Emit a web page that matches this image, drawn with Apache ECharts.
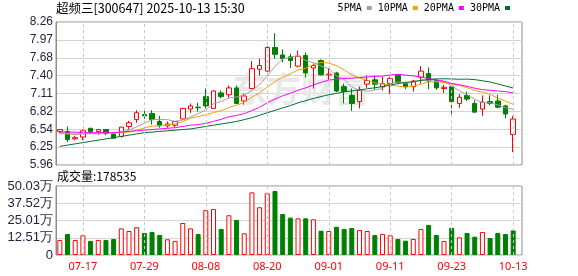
<!DOCTYPE html>
<html><head><meta charset="utf-8">
<script src="https://cdn.jsdelivr.net/npm/echarts@6/dist/echarts.min.js"></script>
<style>html,body{margin:0;padding:0;background:#fff}#c{width:578px;height:276px}</style>
</head><body><div id="c"></div>
<script>
const dates = ['07-14','07-15','07-16','07-17','07-18','07-21','07-22','07-23','07-24','07-25','07-28','07-29','07-30','07-31',
'08-01','08-04','08-05','08-06','08-07','08-08','08-11','08-12','08-13','08-14','08-15','08-18','08-19','08-20','08-21','08-22','08-25','08-26','08-27','08-28','08-29',
'09-01','09-02','09-03','09-04','09-05','09-08','09-09','09-10','09-11','09-12','09-15','09-16','09-17','09-18','09-19','09-22','09-23','09-24','09-25','09-26','09-29','09-30',
'10-09','10-10','10-13'];
const tickDates = ['07-17','07-29','08-08','08-20','09-01','09-11','09-23','10-13'];
const priceTicks = ['5.96','6.25','6.54','6.82','7.11','7.40','7.68','7.97','8.26'];
const volTicks = ['0','12.51万','25.01万','37.52万','50.03万'];
const priceMin = 5.96, priceMax = 8.26, volMax = 50.03;

const opens  = [6.50,6.50,6.38,6.41,6.55,6.50,6.53,6.46,6.42,6.58,6.69,6.77,6.79,6.66,6.59,6.60,6.70,6.86,6.89,7.06,6.87,7.12,7.09,7.20,6.99,7.19,7.50,7.47,7.85,7.73,7.70,7.55,7.72,7.52,7.64,7.41,7.44,7.22,7.08,6.98,7.26,7.33,7.22,7.27,7.40,7.27,7.22,7.37,7.43,7.32,7.19,7.22,6.95,7.08,6.95,6.86,6.98,6.99,6.91,6.45];
const closes = [6.53,6.37,6.40,6.51,6.50,6.53,6.47,6.39,6.57,6.64,6.80,6.75,6.69,6.59,6.62,6.66,6.87,6.91,6.88,6.91,7.15,7.06,7.20,6.95,7.07,7.51,7.56,7.85,7.74,7.67,7.64,7.71,7.44,7.56,7.41,7.42,7.15,7.14,6.95,7.16,7.32,7.26,7.27,7.35,7.29,7.22,7.31,7.47,7.31,7.20,7.21,6.98,7.05,7.02,6.81,6.97,6.95,6.89,6.78,6.70];
const lows   = [6.47,6.33,6.36,6.36,6.46,6.45,6.44,6.38,6.40,6.53,6.64,6.70,6.61,6.56,6.56,6.57,6.69,6.80,6.82,6.87,6.87,7.03,7.04,6.94,6.93,7.18,7.40,7.46,7.67,7.61,7.52,7.53,7.37,7.19,7.40,7.33,7.13,6.95,6.83,6.87,7.20,7.17,7.16,7.10,7.27,7.18,7.14,7.27,7.18,7.17,7.12,6.75,6.88,6.99,6.81,6.75,6.92,6.87,6.71,6.17];
const highs  = [6.54,6.58,6.43,6.53,6.56,6.53,6.53,6.47,6.57,6.67,6.84,6.87,6.84,6.75,6.66,6.66,6.88,6.95,6.96,7.19,7.16,7.16,7.24,7.24,7.11,7.63,7.67,7.87,8.08,7.82,7.75,7.80,7.77,7.59,7.66,7.52,7.46,7.27,7.19,7.22,7.40,7.40,7.38,7.38,7.42,7.30,7.33,7.55,7.53,7.34,7.25,7.24,7.10,7.14,7.00,7.08,7.08,7.09,6.93,6.75];

const ma5  = [6.47,6.46,6.45,6.46,6.462,6.462,6.482,6.48,6.492,6.52,6.574,6.63,6.69,6.694,6.69,6.662,6.686,6.73,6.788,6.846,6.944,6.982,7.04,7.054,7.086,7.158,7.258,7.388,7.546,7.666,7.692,7.722,7.64,7.604,7.552,7.508,7.396,7.336,7.214,7.164,7.144,7.166,7.192,7.272,7.298,7.278,7.288,7.328,7.32,7.302,7.30,7.234,7.15,7.092,7.014,6.966,6.96,6.928,6.88,6.858];
const ma10 = [6.47,6.47,6.47,6.47,6.47,6.48,6.48,6.48,6.48,6.491,6.518,6.556,6.585,6.593,6.605,6.618,6.658,6.71,6.741,6.768,6.803,6.834,6.885,6.921,6.966,7.051,7.12,7.214,7.30,7.376,7.425,7.49,7.514,7.575,7.609,7.60,7.559,7.488,7.409,7.358,7.326,7.281,7.264,7.243,7.231,7.211,7.227,7.26,7.296,7.30,7.289,7.261,7.239,7.206,7.158,7.133,7.097,7.039,6.986,6.936];
const ma20 = [6.49,6.49,6.49,6.48,6.48,6.48,6.48,6.48,6.49,6.50,6.51,6.52,6.53,6.54,6.55,6.56,6.58,6.60,6.61,6.630,6.661,6.695,6.735,6.757,6.786,6.835,6.889,6.962,7.021,7.072,7.114,7.162,7.200,7.248,7.288,7.326,7.340,7.351,7.355,7.367,7.376,7.386,7.389,7.409,7.420,7.406,7.393,7.374,7.353,7.329,7.308,7.271,7.252,7.225,7.195,7.172,7.162,7.150,7.141,7.118];
const ma30 = [6.26,6.28,6.30,6.32,6.34,6.36,6.38,6.40,6.42,6.44,6.46,6.48,6.49,6.50,6.51,6.52,6.53,6.54,6.56,6.58,6.60,6.62,6.64,6.66,6.69,6.72,6.76,6.80,6.84,6.878,6.915,6.960,6.995,7.030,7.060,7.090,7.112,7.137,7.150,7.167,7.185,7.202,7.221,7.246,7.269,7.287,7.302,7.321,7.335,7.345,7.347,7.344,7.339,7.342,7.333,7.315,7.295,7.263,7.231,7.198];

const volumes = [10.9,15.2,10.9,14.3,10.2,10.9,10.9,11.6,19.3,17.4,20.1,16.0,16.7,14.5,11.4,10.2,23.2,19.3,15.2,32.6,33.4,18.9,28.8,25.4,15.7,45.4,34.6,44.7,46.4,29.7,27.1,26.6,26.6,25.9,17.6,17.4,20.5,18.9,19.6,18.1,17.4,14.5,15.2,14.3,11.6,10.4,11.6,18.9,21.8,14.5,10.2,19.6,12.8,16.0,13.3,16.7,12.3,16.0,15.2,17.85];
const volUp = [1,0,1,1,0,1,0,0,1,1,1,0,0,0,1,1,1,1,0,1,1,0,1,0,1,1,1,1,0,0,0,1,0,1,0,1,0,0,0,1,1,0,1,1,0,0,1,1,0,0,1,0,1,0,0,1,0,0,0,0];

const RED = '#ff0000', GREEN = '#008000';
const chart = echarts.init(document.getElementById('c'), null, {renderer: 'canvas'});
const labelColor = '#1f1f3f';
const gridLine = '#d4d4d4';
const frameColor = '#8c8c8c';
const vline = {type:'line', data: closes.map(()=>'-'), showSymbol:false, silent:true, z:1,
  lineStyle:{opacity:0}, markLine:{silent:true, symbol:'none', label:{show:false},
  lineStyle:{color:'#c8c8c8', type:[3,3], width:1}, data: tickDates.map(d=>({xAxis:d}))}};

chart.setOption({
  animation: false,
  title: [
    {text:'超频三[300647] 2025-10-13 15:30', left:56, top:2, padding:0, textStyle:{fontSize:12.5, fontWeight:'normal', color:'#000', fontFamily:'Noto Sans CJK SC'}},
    {text:'成交量:178535', left:57, top:170, padding:0, textStyle:{fontSize:12, fontWeight:'normal', color:'#000', fontFamily:'Noto Sans CJK SC'}}
  ],
  legend: {data:['5PMA','10PMA','20PMA','30PMA'], right:68, top:3, padding:0, align:'right', icon:'rect', itemWidth:5, itemHeight:4, itemGap:6,
    textStyle:{fontSize:10, color:'#000', fontFamily:'DejaVu Sans Mono'}},
  graphic: [{type:'text', left:233, top:72, z:1, silent:true, style:{text:'东方财富', fontSize:34, fontWeight:'bold', fill:'#e8e8e8', fontFamily:'Noto Sans CJK SC'}}],
  grid: [
    {left:56, right:56, top:22, height:143, show:true, borderColor:frameColor, borderWidth:1},
    {left:56, right:61, top:22, height:143},
    {left:56, right:56, top:186, height:69, show:true, borderColor:frameColor, borderWidth:1},
    {left:56, right:61, top:186, height:69}
  ],
  xAxis: [
    {gridIndex:0, type:'value', min:0, max:1, show:false},
    {gridIndex:1, type:'category', data:dates, boundaryGap:true, axisLine:{show:false}, axisTick:{show:false}, axisLabel:{show:false}, splitLine:{show:false}},
    {gridIndex:2, type:'value', min:0, max:1, show:false},
    {gridIndex:3, type:'category', data:dates, boundaryGap:true, axisLine:{show:false}, axisTick:{show:false}, splitLine:{show:false},
      axisLabel:{show:true, interval:(i,v)=>tickDates.includes(v), color:RED, fontSize:11, fontFamily:'Noto Sans', margin:6}}
  ],
  yAxis: [
    {gridIndex:0, type:'value', min:0, max:8, interval:1, axisLine:{show:true, lineStyle:{color:frameColor}}, axisTick:{show:false},
      splitLine:{show:true, lineStyle:{color:gridLine}}, axisLabel:{formatter:v=>priceTicks[v], color:labelColor, fontSize:12, fontFamily:'Liberation Sans', margin:3}},
    {gridIndex:1, type:'value', min:priceMin, max:priceMax, show:false},
    {gridIndex:2, type:'value', min:0, max:4, interval:1, axisLine:{show:true, lineStyle:{color:frameColor}}, axisTick:{show:false},
      splitLine:{show:true, lineStyle:{color:gridLine}}, axisLabel:{formatter:v=>volTicks[v], color:labelColor, fontSize:13, fontFamily:'Liberation Sans', margin:3}},
    {gridIndex:3, type:'value', min:0, max:volMax, show:false}
  ],
  series: [
    Object.assign({}, vline, {xAxisIndex:1, yAxisIndex:1}),
    Object.assign({}, vline, {xAxisIndex:3, yAxisIndex:3}),
    {name:'K', type:'candlestick', xAxisIndex:1, yAxisIndex:1, barWidth:5, z:3,
      data: dates.map((d,i)=>[opens[i], closes[i], lows[i], highs[i]]),
      itemStyle:{color:'#ffffff', color0:GREEN, borderColor:RED, borderColor0:GREEN, borderWidth:1}},
    {name:'5PMA', type:'line', xAxisIndex:1, yAxisIndex:1, data:ma5, showSymbol:false, symbol:'none', z:4, lineStyle:{width:1, color:'#a0a0a0'}, itemStyle:{color:'#a0a0a0'}},
    {name:'10PMA', type:'line', xAxisIndex:1, yAxisIndex:1, data:ma10, showSymbol:false, symbol:'none', z:4, lineStyle:{width:1, color:'#f0a000'}, itemStyle:{color:'#f0a000'}},
    {name:'20PMA', type:'line', xAxisIndex:1, yAxisIndex:1, data:ma20, showSymbol:false, symbol:'none', z:4, lineStyle:{width:1, color:'#ff00ff'}, itemStyle:{color:'#ff00ff'}},
    {name:'30PMA', type:'line', xAxisIndex:1, yAxisIndex:1, data:ma30, showSymbol:false, symbol:'none', z:4, lineStyle:{width:1, color:'#006f2f'}, itemStyle:{color:'#006f2f'}},
    {name:'VOL', type:'bar', xAxisIndex:3, yAxisIndex:3, barWidth:5, z:3,
      data: volumes.map((v,i)=>({value:v, itemStyle: volUp[i] ? {color:'#ffffff', borderColor:RED, borderWidth:1} : {color:GREEN, borderColor:GREEN, borderWidth:1}}))}
  ]
});
</script></body></html>
